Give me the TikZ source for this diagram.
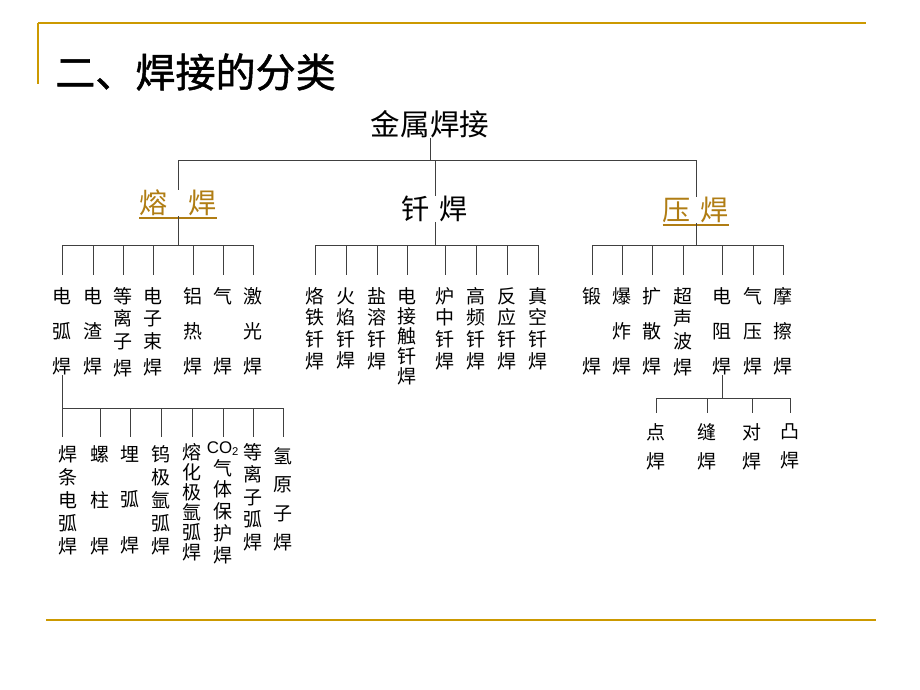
\documentclass[tikz,border=0pt]{standalone}
\usepackage{fontspec}
\newfontfamily\cjk{Noto Sans CJK SC}
\newfontfamily\cjkbf[FakeBold=1.2]{Noto Sans CJK SC}
\newfontfamily\arialfont{Liberation Sans}
\usetikzlibrary{calc}
\definecolor{framegold}{RGB}{204,153,0}
\definecolor{kindgold}{RGB}{176,125,20}
\definecolor{linegray}{RGB}{64,64,64}
\tikzset{
  link/.style={draw=linegray, line width=0.7pt},
  leaf/.style={font=\cjk\fontsize{13.5}{#1}\selectfont, align=center, inner sep=0pt, anchor=north},
  leaf/.default=25,
  kind/.style={font=\cjk\fontsize{20}{20}\selectfont, inner sep=0pt},
  gold/.style={kind, text=kindgold},
}

\begin{document}
\begin{tikzpicture}[x=0.025cm, y=-0.025cm]
    \useasboundingbox (0,0) rectangle (920,690);
    % frame
    \draw[framegold, line width=1.6pt] (38,23) -- (866,23);
    \draw[framegold, line width=0.8pt] (38,23) -- (38,84);
    \draw[framegold, line width=1.6pt] (46,620) -- (876,620);
    \node[font=\cjkbf\fontsize{28.5}{30}\selectfont, anchor=west, inner sep=0pt] (title) at (55,72) {二、焊接的分类};

    % root and the three kinds
    \node[font=\cjk\fontsize{21}{21}\selectfont, inner sep=0pt] (jin) at (430,124) {金属焊接};
    \node[gold] (rong) at (178,203) {熔\hspace{0.75em}焊};
    \node[kind] (qian) at (435,209) {钎\hspace{0.35em}焊};
    \node[gold] (ya) at (696,210) {压\hspace{0.35em}焊};
    \draw[kindgold, line width=1.4pt] ([yshift=-1pt]rong.south west) -- ([yshift=-1pt]rong.south east);
    \draw[kindgold, line width=1.4pt] ([yshift=-1pt]ya.south west) -- ([yshift=-1pt]ya.south east);
    \draw[link] (jin.south) -- (jin.south |- 0,160) coordinate (jb);
    \foreach \k in {rong, qian, ya}
        \draw[link] (jb) -| (\k.north);

    % fusion welding
    \draw[link] (rong.south) -- (rong.south |- 0,245) coordinate (rb);
    \foreach \n/\x/\p/\txt in {r1/62/25/{电\\弧\\焊}, r2/93/25/{电\\渣\\焊},
            r3/123/16/{等\\离\\子\\[3pt]焊}, r4/153/16/{电\\子\\束\\[3pt]焊},
            r5/193/25/{铝\\热\\焊}, r6/223/25/{气\\[25pt]焊}, r7/253/25/{激\\光\\焊}} {
        \node[leaf=\p] (\n) at (\x,287) {\txt};
        \draw[link] (rb) -| (\n.north |- 0,275);
    }

    % brazing
    \draw[link] (qian.south) -- (qian.south |- 0,245) coordinate (qb);
    \foreach \n/\x/\p/\txt in {q1/315/15.4/{烙\\铁\\钎\\焊}, q2/346/15.4/{火\\焰\\钎\\焊},
            q3/377/15.4/{盐\\溶\\钎\\焊}, q4/407/14.2/{电\\接\\触\\钎\\焊},
            q5/445/15.4/{炉\\中\\钎\\焊}, q6/476/15.4/{高\\频\\钎\\焊},
            q7/507/15.4/{反\\应\\钎\\焊}, q8/538/15.4/{真\\空\\钎\\焊}} {
        \node[leaf=\p] (\n) at (\x,287) {\txt};
        \draw[link] (qb) -| (\n.north |- 0,275);
    }

    % pressure welding
    \draw[link] (ya.south) -- (ya.south |- 0,245) coordinate (yb);
    \foreach \n/\x/\p/\txt in {p1/592/25/{锻\\[25pt]焊}, p2/622/25/{爆\\炸\\焊},
            p3/652/25/{扩\\散\\焊}, p4/683/16/{超\\声\\波\\[3pt]焊},
            p5/722/25/{电\\阻\\焊}, p6/753/25/{气\\压\\焊}, p7/783/25/{摩\\擦\\焊}} {
        \node[leaf=\p] (\n) at (\x,287) {\txt};
        \draw[link] (yb) -| (\n.north |- 0,275);
    }

    % arc welding methods
    \draw[link] (r1.south) -- (r1.south |- 0,408) coordinate (eb);
    \foreach \n/\x/\y/\p/\txt in {e1/68/445/16.4/{焊\\条\\电\\弧\\焊}, e2/100/445/32.7/{螺\\柱\\焊},
            e3/130/445/32.7/{埋\\弧\\焊}, e4/161/445/16.4/{钨\\极\\氩\\弧\\焊},
            e5/192/443/14.2/{熔\\化\\极\\氩\\弧\\焊},
            e6/223/441/15.6/{{\arialfont\fontsize{12}{12}\selectfont CO\textsubscript{2}}\\气\\体\\保\\护\\焊},
            e7/253/443/16/{等\\离\\子\\弧\\焊}, e8/283/447/20.4/{氢\\原\\子\\焊}}
        \node[leaf=\p] (\n) at (\x,\y) {\txt};
    \draw[link] (eb) -- (eb |- 0,437);
    \foreach \n in {e2, e3, e4, e5, e6, e7, e8}
        \draw[link] (eb) -| (\n.north |- 0,437);

    % resistance welding methods
    \draw[link] (p5.south) -- (p5.south |- 0,398) coordinate (db);
    \foreach \n/\x/\txt in {d1/656/{点\\焊}, d2/707/{缝\\焊}, d3/752/{对\\焊}, d4/790/{凸\\焊}} {
        \node[leaf=20.6] (\n) at (\x,423) {\txt};
        \draw[link] (db) -| (\n.north |- 0,413);
    }
\end{tikzpicture}
\end{document}
